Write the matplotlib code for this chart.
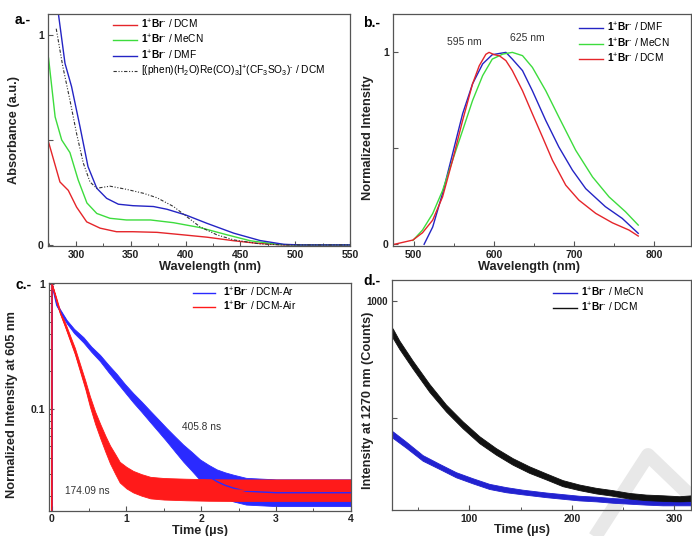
import numpy as np
import matplotlib
matplotlib.use("Agg")
import matplotlib.pyplot as plt
from matplotlib.ticker import MultipleLocator, FixedLocator, NullFormatter, LogLocator
from matplotlib.lines import Line2D

plt.rcParams['font.family'] = ['Liberation Sans', 'DejaVu Sans']
plt.rcParams['mathtext.fontset'] = 'custom'
plt.rcParams['mathtext.rm'] = 'Liberation Sans'
plt.rcParams['mathtext.it'] = 'Liberation Sans:italic'
plt.rcParams['mathtext.bf'] = 'Liberation Sans:bold'

# ---------------- Panel a: absorbance ----------------
a_dcm_x = [275, 285.4, 293, 300.6, 309.8, 322, 337, 352, 374, 398, 419.5, 444, 465, 490, 550]
a_dcm_y = [0.49, 0.30, 0.26, 0.18, 0.11, 0.08, 0.063, 0.063, 0.06, 0.048, 0.037, 0.02, 0.008, 0.0, 0.0]
a_mecn_x = [275, 281, 287, 294.5, 302, 310, 319, 331, 346, 368, 389, 413, 438, 459, 483.5, 500, 550]
a_mecn_y = [0.89, 0.61, 0.50, 0.44, 0.31, 0.20, 0.15, 0.127, 0.119, 0.119, 0.106, 0.083, 0.048, 0.02, 0.003, 0.0, 0.0]
a_dmf_x = [283.5, 290, 296, 303.7, 311, 319, 328, 338.7, 352, 370.7, 383, 400, 419.5, 444, 468, 489.6, 505, 550]
a_dmf_y = [1.12, 0.865, 0.754, 0.563, 0.373, 0.27, 0.222, 0.194, 0.187, 0.183, 0.17, 0.143, 0.103, 0.056, 0.021, 0.003, 0.0, 0.0]
a_ref_x = [282, 288, 294.5, 300.6, 306.7, 312.8, 319, 331, 346, 361.6, 373.8, 389, 401, 413, 428.6, 444, 468, 490, 550]
a_ref_y = [1.03, 0.85, 0.69, 0.53, 0.39, 0.30, 0.27, 0.28, 0.265, 0.246, 0.225, 0.183, 0.135, 0.087, 0.048, 0.024, 0.005, 0.0, 0.0]

SUP = '$\\mathbf{1}^{+}\\mathbf{Br}^{\u2010}$'
a_labels = [SUP + ' / DCM', SUP + ' / MeCN', SUP + ' / DMF',
            '[(phen)(H$_2$O)Re(CO)$_3$]$^{+}$(CF$_3$SO$_3$)$^{\u2010}$ / DCM']

# ---------------- Panel b: emission ----------------
b_dcm_x = [476, 499, 511, 523.7, 536, 548.5, 561, 573.4, 581.7, 590, 594, 600.4, 606.6, 615, 623, 635.7, 648, 660.6, 673, 689.6, 706, 727, 747.7, 768.5, 780]
b_dcm_y = [0.0, 0.022, 0.06, 0.126, 0.247, 0.438, 0.645, 0.836, 0.93, 0.99, 1.0, 0.988, 0.983, 0.957, 0.905, 0.80, 0.68, 0.559, 0.438, 0.308, 0.23, 0.161, 0.112, 0.074, 0.043]
b_dmf_x = [513, 523.7, 536, 548.5, 561, 573.4, 586, 598, 615, 623, 635.7, 648, 664.7, 681, 698, 714.5, 739, 760, 780]
b_dmf_y = [0.0, 0.09, 0.265, 0.472, 0.68, 0.836, 0.94, 0.988, 1.0, 0.965, 0.905, 0.80, 0.645, 0.507, 0.386, 0.29, 0.196, 0.135, 0.057]
b_mecn_x = [499, 511, 523.7, 536, 548.5, 561, 573.4, 586, 598, 611, 623, 635.7, 648, 664.7, 681, 702, 723, 743.6, 764, 780]
b_mecn_y = [0.02, 0.074, 0.16, 0.28, 0.438, 0.593, 0.749, 0.879, 0.965, 0.991, 1.0, 0.983, 0.922, 0.80, 0.663, 0.49, 0.351, 0.247, 0.17, 0.10]
b_labels = [SUP + ' / DMF', SUP + ' / MeCN', SUP + ' / DCM']

# ---------------- Panel c: decay at 605 nm ----------------
c_air_t = [0.0, 0.003, 0.05, 0.11, 0.18, 0.245, 0.31, 0.38, 0.45, 0.51, 0.58, 0.65, 0.72, 0.78, 0.85, 0.91, 1.0, 1.09, 1.2, 1.32, 1.5, 1.8, 2.1, 2.5, 3.0, 3.5, 4.0]
c_air_y = [0.012, 1.0, 0.80, 0.60, 0.47, 0.369, 0.29, 0.212, 0.155, 0.115, 0.085, 0.066, 0.052, 0.043, 0.036, 0.031, 0.028, 0.026, 0.0245, 0.0233, 0.0228, 0.0225, 0.0223, 0.0222, 0.0222, 0.0222, 0.0222]
c_air_spread = [1.0, 1.0, 1.02, 1.03, 1.04, 1.05, 1.06, 1.07, 1.08, 1.1, 1.12, 1.14, 1.16, 1.18, 1.2, 1.21, 1.22, 1.22, 1.22, 1.22, 1.22, 1.22, 1.22, 1.22, 1.22, 1.22, 1.22]
c_ar_t = [0.0, 0.003, 0.067, 0.2, 0.3, 0.424, 0.53, 0.646, 0.76, 0.87, 0.98, 1.092, 1.2, 1.315, 1.43, 1.538, 1.65, 1.76, 1.87, 1.984, 2.1, 2.207, 2.32, 2.43, 2.6, 3.0, 3.5, 4.0]
c_ar_y = [0.012, 1.0, 0.68, 0.50, 0.42, 0.357, 0.30, 0.255, 0.21, 0.176, 0.146, 0.122, 0.104, 0.087, 0.073, 0.0618, 0.052, 0.044, 0.038, 0.0324, 0.0288, 0.0261, 0.0243, 0.0231, 0.0218, 0.0212, 0.0212, 0.0212]
c_ar_spread = [1.0, 1.0, 1.02, 1.03, 1.04, 1.05, 1.05, 1.06, 1.07, 1.08, 1.08, 1.09, 1.1, 1.11, 1.12, 1.13, 1.15, 1.17, 1.19, 1.21, 1.23, 1.25, 1.27, 1.28, 1.28, 1.28, 1.28, 1.28]
c_labels = [SUP + ' / DCM-Ar', SUP + ' / DCM-Air']

# ---------------- Panel d: singlet oxygen at 1270 nm ----------------
d_dcm_t = [25.2, 31.7, 44.7, 61, 77.2, 93.5, 109.8, 126, 142.3, 158.5, 174.8, 191, 207.3, 223.6, 239.8, 256, 272.4, 288.6, 304.9, 317]
d_dcm_y = [864, 814, 729, 629, 543, 471, 407, 357, 314, 279, 250, 221, 203, 189, 179, 167, 160, 157, 153, 157]
d_dcm_half = [20, 18, 17, 17, 15, 15, 15, 14, 14, 14, 13, 13, 12, 12, 12, 12, 12, 12, 12, 12]
d_mecn_t = [25.2, 38.2, 54.5, 70.7, 87, 103.3, 119.5, 135.8, 152, 174.8, 191, 207.3, 223.6, 240, 256, 272.4, 288.6, 317]
d_mecn_y = [429, 386, 329, 293, 257, 231, 207, 193, 183, 171, 164, 157, 153, 147, 143, 139, 136, 136]
d_mecn_half = [14, 13, 12, 11, 11, 11, 11, 11, 10, 10, 10, 10, 10, 10, 10, 10, 10, 10]
d_labels = [SUP + ' / MeCN', SUP + ' / DCM']

W, H = 692, 536
fig = plt.figure(figsize=(W / 100, H / 100), dpi=100)

def add_ax(l, r, t, b):
    ax = fig.add_axes([l / W, (H - b) / H, (r - l) / W, (b - t) / H])
    ax.set_facecolor('none')
    for s in ax.spines.values():
        s.set_color('#555555')
        s.set_linewidth(0.9)
    ax.tick_params(which='both', direction='in', colors='#555555', labelcolor='#222222',
                   labelsize=7.5, pad=3)
    ax.tick_params(which='major', length=3.5, width=0.8)
    ax.tick_params(which='minor', length=2, width=0.7)
    ax.tick_params(top=False, right=False, which='both')
    return ax

def boldticks(ax):
    for lab in ax.get_xticklabels() + ax.get_yticklabels():
        lab.set_fontweight('bold')

RED = '#e5252a'
GREEN = '#3ddc3d'
BLUE = '#2424c4'
LBL = dict(fontsize=9.2, fontweight='bold', color='#222222')
LEG = dict(frameon=False, fontsize=7.3, borderpad=0, borderaxespad=0)

# watermark (light grey inverted V behind panel d)
wm = Line2D([593 / W, 648 / W, 700 / W], [(H - 540) / H, (H - 455) / H, (H - 505) / H],
            transform=fig.transFigure, color='#e8e8e8', lw=10, solid_capstyle='butt',
            solid_joinstyle='round', zorder=-5)
fig.add_artist(wm)

# ---- a
ax = add_ax(48, 350, 14, 246)
l1, = ax.plot(a_dcm_x, a_dcm_y, color=RED, lw=1.0)
l2, = ax.plot(a_mecn_x, a_mecn_y, color=GREEN, lw=1.0)
l3, = ax.plot(a_dmf_x, a_dmf_y, color=BLUE, lw=1.0)
l4, = ax.plot(a_ref_x, a_ref_y, color='#333333', lw=0.8, dashes=[3, 1.5, 1, 1.5, 1, 1.5])
ax.set_xlim(274.5, 550)
ax.set_ylim(-0.005, 1.1)
ax.xaxis.set_major_locator(FixedLocator([300, 350, 400, 450, 500, 550]))
ax.xaxis.set_minor_locator(MultipleLocator(25))
ax.yaxis.set_major_locator(FixedLocator([0, 0.5, 1]))
ax.set_yticklabels(['0', '', '1'])
boldticks(ax)
ax.set_xlabel('Wavelength (nm)', **LBL)
ax.xaxis.set_label_coords(0.536, -0.065)
ax.set_ylabel('Absorbance (a.u.)', **LBL)
ax.yaxis.set_label_coords(-0.093, 0.5)
ax.legend([l1, l2, l3, l4], a_labels, loc='upper left', bbox_to_anchor=(0.215, 0.985),
          handlelength=2.4, labelspacing=0.22, handletextpad=0.4, **LEG)
fig.text(15 / W, (H - 20) / H, 'a.-', fontsize=10, fontweight='bold', va='center', ha='left')

# ---- b
ax = add_ax(393, 691, 14, 246)
m1, = ax.plot(b_dmf_x, b_dmf_y, color=BLUE, lw=1.0)
m2, = ax.plot(b_mecn_x, b_mecn_y, color=GREEN, lw=1.0)
m3, = ax.plot(b_dcm_x, b_dcm_y, color=RED, lw=1.0)
ax.set_xlim(474.2, 845.8)
ax.set_ylim(-0.009, 1.2)
ax.xaxis.set_major_locator(FixedLocator([500, 600, 700, 800]))
ax.xaxis.set_minor_locator(MultipleLocator(50))
ax.yaxis.set_major_locator(FixedLocator([0, 0.5, 1]))
ax.set_yticklabels(['0', '', '1'])
boldticks(ax)
ax.set_xlabel('Wavelength (nm)', **LBL)
ax.xaxis.set_label_coords(0.456, -0.065)
ax.set_ylabel('Normalized Intensity', **LBL)
ax.yaxis.set_label_coords(-0.064, 0.468)
ax.legend([m1, m2, m3], b_labels, loc='upper left', bbox_to_anchor=(0.624, 0.97),
          handlelength=2.4, labelspacing=0.22, handletextpad=0.4, **LEG)
ax.text(563, 1.03, '595 nm', fontsize=7.5, color='#333333', ha='center', va='bottom')
ax.text(642, 1.05, '625 nm', fontsize=7.5, color='#333333', ha='center', va='bottom')
fig.text(363 / W, (H - 23) / H, 'b.-', fontsize=10, fontweight='bold', va='center', ha='left')

# ---- c
ax = add_ax(49, 351, 283, 511)
ax.set_yscale('log')
CB = '#2a2aff'
CR = '#ff1a1a'
ar_y = np.array(c_ar_y)
ar_s = np.array(c_ar_spread)
air_y = np.array(c_air_y)
air_s = np.array(c_air_spread)
ax.fill_between(c_ar_t, ar_y / ar_s, ar_y * ar_s, color=CB, lw=0.6, edgecolor=CB)
n1, = ax.plot(c_ar_t, c_ar_y, color=CB, lw=1.0)
ax.fill_between(c_air_t, air_y / air_s, air_y * air_s, color=CR, lw=0.6, edgecolor=CR)
n2, = ax.plot(c_air_t, c_air_y, color=CR, lw=1.0)
ax.set_xlim(-0.036, 4.003)
ax.set_ylim(0.01513, 1.019)
ax.xaxis.set_major_locator(FixedLocator([0, 1, 2, 3, 4]))
ax.xaxis.set_minor_locator(MultipleLocator(0.5))
ax.yaxis.set_major_locator(FixedLocator([0.1, 1]))
ax.yaxis.set_minor_locator(LogLocator(base=10, subs=np.arange(2, 10)))
ax.yaxis.set_minor_formatter(NullFormatter())
ax.set_yticklabels(['0.1', '1'])
ax.set_xticklabels(['0', '1', '2', '3', '4'])
boldticks(ax)
ax.tick_params(axis='x', pad=2)
ax.set_xlabel('Time (\u00b5s)', **LBL)
ax.xaxis.set_label_coords(0.5, -0.062)
ax.set_ylabel('Normalized Intensity at 605 nm', **LBL)
ax.yaxis.set_label_coords(-0.103, 0.467)
ax.legend([n1, n2], c_labels, loc='upper left', bbox_to_anchor=(0.477, 0.99),
          handlelength=2.2, labelspacing=0.12, handletextpad=0.8, **LEG)
ax.text(2.0, 0.072, '405.8 ns', fontsize=7.3, color='#333333', ha='center', va='center')
ax.text(0.47, 0.022, '174.09 ns', fontsize=7.3, color='#333333', ha='center', va='center')
fig.text(15 / W, (H - 285) / H, 'c.-', fontsize=10, fontweight='bold', va='center', ha='left')

# ---- d
ax = add_ax(392, 691, 280, 510)
DB = '#2222d0'
DK = '#111111'
my = np.array(d_mecn_y)
mh = np.array(d_mecn_half)
ky = np.array(d_dcm_y)
kh = np.array(d_dcm_half)
ax.fill_between(d_mecn_t, my - mh, my + mh, color=DB, lw=0.6, edgecolor=DB)
o1, = ax.plot(d_mecn_t, d_mecn_y, color=DB, lw=1.0)
ax.fill_between(d_dcm_t, ky - kh, ky + kh, color=DK, lw=0.6, edgecolor=DK)
o2, = ax.plot(d_dcm_t, d_dcm_y, color=DK, lw=1.0)
ax.set_xlim(24.6, 316.3)
ax.set_ylim(106, 1091)
ax.xaxis.set_major_locator(FixedLocator([100, 200, 300]))
ax.xaxis.set_minor_locator(FixedLocator([50, 150, 250]))
ax.yaxis.set_major_locator(FixedLocator([500, 1000]))
ax.set_yticklabels(['', '1000'])
ax.set_xticklabels(['100', '200', '300'])
boldticks(ax)
ax.tick_params(axis='y', labelsize=7)
ax.set_xlabel('Time (\u00b5s)', **LBL)
ax.xaxis.set_label_coords(0.435, -0.063)
ax.set_ylabel('Intensity at 1270 nm (Counts)', **LBL)
ax.yaxis.set_label_coords(-0.06, 0.476)
ax.legend([o1, o2], d_labels, loc='upper left', bbox_to_anchor=(0.538, 0.974),
          handlelength=2.4, labelspacing=0.15, handletextpad=0.4, **LEG)
fig.text(363 / W, (H - 281) / H, 'd.-', fontsize=10, fontweight='bold', va='center', ha='left')

fig.savefig('out.png', dpi=100)
